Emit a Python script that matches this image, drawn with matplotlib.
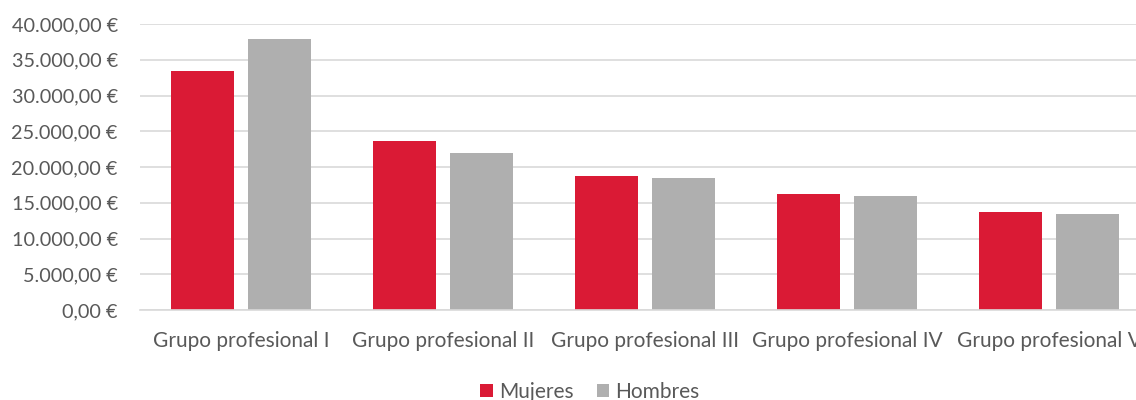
import matplotlib
matplotlib.use("Agg")
import matplotlib.pyplot as plt
from matplotlib.ticker import FuncFormatter, MultipleLocator
import numpy as np

categories = ["Grupo profesional I", "Grupo profesional II", "Grupo profesional III",
              "Grupo profesional IV", "Grupo profesional V"]
mujeres = [33400, 23700, 18750, 16200, 13750]
hombres = [37850, 21900, 18450, 16000, 13400]
series_names = ["Mujeres", "Hombres"]
colors = ["#DA1A35", "#AFAFAF"]

plt.rcParams['font.family'] = ['Lato', 'DejaVu Sans']
text_color = "#595959"

fig = plt.figure(figsize=(11.36, 4.0), dpi=100)
ax = fig.add_axes([140/1136, 1-310/400, 1010/1136, 286/400])

x = np.arange(len(categories))
w = 0.31
off = 0.192
ax.bar(x - off, mujeres, width=w, color=colors[0], label=series_names[0], zorder=3)
ax.bar(x + off, hombres, width=w, color=colors[1], label=series_names[1], zorder=3)

ax.set_xlim(-0.5, len(categories) - 0.5)
ax.set_ylim(0, 40000)
ax.yaxis.set_major_locator(MultipleLocator(5000))

def fmt(v, pos):
    s = f"{v:,.2f}"
    s = s.replace(",", "X").replace(".", ",").replace("X", ".")
    return s + " €"

ax.yaxis.set_major_formatter(FuncFormatter(fmt))
ax.set_xticks(x)
ax.set_xticklabels(categories)

ax.grid(axis='y', color="#D9D9D9", linewidth=1.2, zorder=0)
for s in ["top", "right", "left"]:
    ax.spines[s].set_visible(False)
ax.spines["bottom"].set_color("#D9D9D9")
ax.spines["bottom"].set_linewidth(1.2)
ax.spines["bottom"].set_zorder(4)

ax.tick_params(axis='both', length=0, labelcolor=text_color)
ax.tick_params(axis='y', pad=16, labelsize=14.3)
ax.tick_params(axis='x', pad=15, labelsize=15)

fig.legend(loc='center', bbox_to_anchor=(590/1136, 1-392/400), ncol=2, frameon=False,
           fontsize=15, labelcolor=text_color, handlelength=0.6, handleheight=0.6,
           handletextpad=0.3, columnspacing=1.1)

fig.savefig("out.png", dpi=100)
